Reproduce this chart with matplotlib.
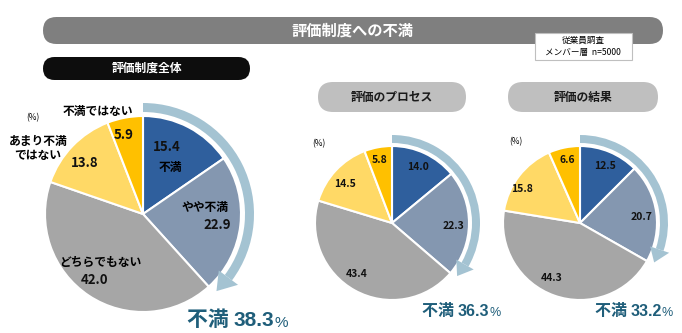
import matplotlib
matplotlib.use("Agg")
import matplotlib.pyplot as plt
from matplotlib.patches import FancyBboxPatch, Wedge, Polygon, Rectangle
import numpy as np

plt.rcParams['font.family'] = ['Noto Sans CJK JP', 'DejaVu Sans']

W, H = 682, 333

# 回答カテゴリ（不満 → 不満ではない の順）
categories = ['不満', 'やや不満', 'どちらでもない', 'あまり不満\nではない', '不満ではない']
total_values = [15.4, 22.9, 42.0, 13.8, 5.9]
process_values = [14.0, 22.3, 43.4, 14.5, 5.8]
result_values = [12.5, 20.7, 44.3, 15.8, 6.6]

colors = ['#2F5F9D', '#8497B0', '#A6A6A6', '#FFD966', '#FFC000']
arrow_color = '#A4C3D2'
teal = '#1F5E7A'

fig = plt.figure(figsize=(W / 100, H / 100), dpi=100)
ax = fig.add_axes([0, 0, 1, 1])


def Y(y):
    # 画像座標（上から）→ 描画座標（下から）
    return H - y


def pill(x0, x1, y0, y1, color, text, tcolor, size):
    h = y1 - y0
    yc = Y((y0 + y1) / 2)
    ax.add_patch(FancyBboxPatch((x0 + h / 2, yc), x1 - x0 - h, 0,
                                boxstyle=f"round,pad={h / 2},rounding_size={h / 2}",
                                fc=color, ec='none'))
    ax.text((x0 + x1) / 2, yc, text, color=tcolor, fontsize=size,
            fontweight='bold', ha='center', va='center')


def arrow(cx, cy, r_in, r_out, share, hw, hlen):
    end = 90 - share * 3.6 + 1.5
    rc = (r_in + r_out) / 2
    hdeg = np.degrees(hlen / rc)
    a0 = end + hdeg
    ax.add_patch(Wedge((cx, Y(cy)), r_out, a0, 90, width=r_out - r_in,
                       fc=arrow_color, ec='none'))
    t0 = np.radians(a0)
    t1 = np.radians(end)
    pts = [(cx + (rc - hw) * np.cos(t0), Y(cy) + (rc - hw) * np.sin(t0)),
           (cx + (rc + hw) * np.cos(t0), Y(cy) + (rc + hw) * np.sin(t0)),
           (cx + rc * np.cos(t1), Y(cy) + rc * np.sin(t1))]
    ax.add_patch(Polygon(pts, closed=True, fc=arrow_color, ec='none'))


def pie(values, cx, cy, r):
    ax.pie(values, colors=colors, startangle=90, counterclock=False,
           center=(cx, Y(cy)), radius=r,
           wedgeprops=dict(edgecolor='white', linewidth=1.5))


def summary(x, y, share, big, small):
    t1 = ax.text(x, Y(y), '不満 ', color=teal, fontsize=big, fontweight='bold',
                 ha='left', va='baseline')
    t2 = ax.annotate(f'{share:.1f}', xy=(1, 0), xycoords=t1, color=teal,
                     fontsize=big, fontweight='bold', ha='left', va='bottom',
                     family='Liberation Sans')
    ax.annotate('%', xy=(1, 0), xycoords=t2, color=teal, fontsize=small,
                ha='left', va='bottom', family='Liberation Sans')


# 見出し
pill(43, 663, 17, 44, '#7F7F7F', '評価制度への不満', 'white', 11)
ax.add_patch(Rectangle((535, Y(60)), 97, 27, fc='white', ec='#BFBFBF', lw=0.8))
ax.text(583, Y(40), '従業員調査', fontsize=6.2, ha='center', va='center')
ax.text(583, Y(52), 'メンバー層  n=5000', fontsize=6.2, ha='center', va='center')

pill(43, 250, 57, 80, '#0D0D0D', '評価制度全体', 'white', 8.5)
pill(318, 466, 82, 112, '#BFBFBF', '評価のプロセス', '#1A1A1A', 8.5)
pill(508, 658, 82, 112, '#BFBFBF', '評価の結果', '#1A1A1A', 8.5)

# 評価制度全体
pie(total_values, 143, 214, 98)
arrow(143, 214, 102, 111, total_values[0] + total_values[1], 12, 18)
big_pos = [(167, 147), (217, 225), (95, 280), (85, 163), (124, 135)]
for v, (x, y) in zip(total_values, big_pos):
    ax.text(x, Y(y), f'{v:.1f}', fontsize=9.5, fontweight='bold',
            ha='center', va='center', color='#111111')
ax.text(170, Y(167), categories[0], fontsize=8.5, fontweight='bold', ha='center', va='center')
ax.text(205, Y(207), categories[1], fontsize=8.5, fontweight='bold', ha='center', va='center')
ax.text(100, Y(262), categories[2], fontsize=8.5, fontweight='bold', ha='center', va='center')
ax.text(38, Y(148), categories[3], fontsize=8.5, fontweight='bold', ha='center', va='center',
        linespacing=1.1)
ax.text(98, Y(111), categories[4], fontsize=8.5, fontweight='bold', ha='center', va='center')
ax.text(33, Y(118), '(%)', fontsize=6, ha='center', va='center')
summary(187, 326, total_values[0] + total_values[1], 15, 11)

# 評価のプロセス
pie(process_values, 392, 223, 77)
arrow(392, 223, 80, 88, process_values[0] + process_values[1], 10, 14)
mid_pos = [(418, 167), (453, 226), (357, 274), (345, 184), (380, 160)]
for v, (x, y) in zip(process_values, mid_pos):
    ax.text(x, Y(y), f'{v:.1f}', fontsize=7.5, fontweight='bold',
            ha='center', va='center', color='#111111')
ax.text(319, Y(144), '(%)', fontsize=6, ha='center', va='center')
summary(422, 316, process_values[0] + process_values[1], 11.5, 9)

# 評価の結果
pie(result_values, 580, 223, 77)
arrow(580, 223, 80, 88, result_values[0] + result_values[1], 10, 14)
right_pos = [(605, 166), (642, 217), (552, 278), (522, 189), (567, 160)]
for v, (x, y) in zip(result_values, right_pos):
    ax.text(x, Y(y), f'{v:.1f}', fontsize=7.5, fontweight='bold',
            ha='center', va='center', color='#111111')
ax.text(516, Y(142), '(%)', fontsize=6, ha='center', va='center')
summary(595, 316, result_values[0] + result_values[1], 11.5, 9)

ax.set_xlim(0, W)
ax.set_ylim(0, H)
ax.set_aspect('auto')
ax.axis('off')

fig.savefig('out.png', dpi=100, facecolor='white')
